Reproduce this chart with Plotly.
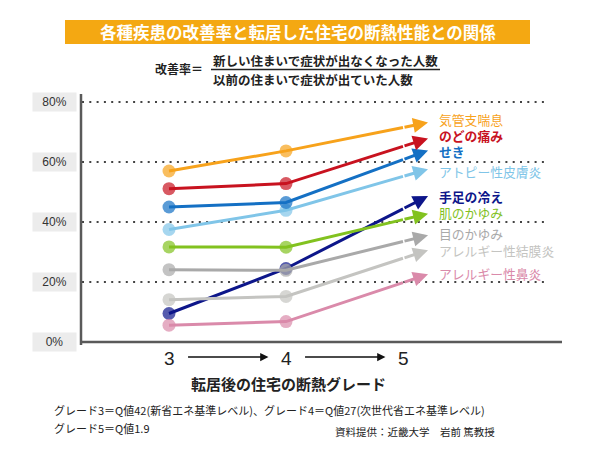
import plotly.graph_objects as go

# ---------------- data ----------------
GRADES = [3, 4, 5]
GRADE_LABELS = ["3", "4", "5"]
Y_TICKS = [0, 20, 40, 60, 80]
Y_TICK_LABELS = ["0%", "20%", "40%", "60%", "80%"]

SYMPTOMS = ["気管支喘息", "のどの痛み", "せき", "アトピー性皮膚炎", "手足の冷え",
            "肌のかゆみ", "目のかゆみ", "アレルギー性結膜炎", "アレルギー性鼻炎"]
RATE_G3 = [57.0, 51.1, 45.0, 37.5, 9.5, 31.7, 24.1, 14.1, 5.6]
RATE_G4 = [63.7, 52.8, 46.5, 43.9, 24.5, 31.6, 23.9, 15.2, 6.8]
RATE_G5 = [71.5, 65.2, 60.8, 55.2, 44.4, 40.8, 33.5, 27.9, 19.8]

TITLE = "各種疾患の改善率と転居した住宅の断熱性能との関係"
FORMULA_LEFT = "改善率＝"
FORMULA_NUM = "新しい住まいで症状が出なくなった人数"
FORMULA_DEN = "以前の住まいで症状が出ていた人数"
X_TITLE = "転居後の住宅の断熱グレード"
NOTE_1 = "グレード3＝Q値42(新省エネ基準レベル)、グレード4＝Q値27(次世代省エネ基準レベル)"
NOTE_2 = "グレード5＝Q値1.9"
CREDIT = "資料提供：近畿大学　岩前 篤教授"

# ---------------- style ----------------
COLORS = ["#f7a21b", "#c8121f", "#1470c4", "#80c5e8", "#0d168a",
          "#82c21f", "#a9a9a9", "#c4c4c1", "#da8aaa"]
LABEL_BOLD = [False, True, True, False, True, False, False, False, False]
LABEL_YSHIFT = [3, 2.5, -1.5, -2, 0, 1, 2, 0, 1]
DRAW_ORDER = [4, 8, 7, 6, 5, 3, 2, 1, 0]
FONT = "Noto Sans CJK JP"
LATIN = "Liberation Sans"
OVERSHOOT = 0.214

PAGE_W, PAGE_H = 600, 450
BODY_MARGIN = 8  # default page margin around the plot div
W_FIG, H_FIG = PAGE_W - BODY_MARGIN, PAGE_H - BODY_MARGIN
L, R, T, B = 81, 548, 95, 342  # plot area in page pixels
PW, PH = R - L, B - T
X_RANGE = [3 - (169 - L) / 117.0, 3 + (R - 169) / 117.0]
Y_RANGE = [0, PH / 3.0]


def px(x):
    return (x - L) / PW


def py(y):
    return (B - y) / PH


fig = go.Figure()
annotations = []
shapes = []

# gridlines
for t in Y_TICKS[1:]:
    shapes.append(dict(type="line", xref="paper", yref="y", x0=px(82), x1=1, y0=t, y1=t,
                       line=dict(color="#444", width=2, dash="2px,5.3px"), layer="below"))
# axes lines
shapes.append(dict(type="line", xref="paper", yref="paper", x0=0, x1=0, y0=py(345), y1=py(94),
                   line=dict(color="#5a5a5a", width=2.5)))
shapes.append(dict(type="line", xref="paper", yref="paper", x0=px(80), x1=px(562), y0=0, y1=0,
                   line=dict(color="#5a5a5a", width=2.5)))

# series
for i in DRAW_ORDER:
    c = COLORS[i]
    fig.add_trace(go.Scatter(
        x=GRADES, y=[RATE_G3[i], RATE_G4[i], RATE_G5[i]],
        mode="lines+markers", name=SYMPTOMS[i],
        line=dict(color=c, width=3),
        marker=dict(color=c, size=[13, 13, 0], line=dict(width=0)),
        cliponaxis=False, showlegend=False, hoverinfo="skip"))
    tip_x = GRADES[2] + OVERSHOOT
    tip_y = RATE_G4[i] + (RATE_G5[i] - RATE_G4[i]) * (1 + OVERSHOOT)
    annotations.append(dict(
        x=tip_x, y=tip_y, xref="x", yref="y",
        ax=GRADES[2], ay=RATE_G5[i], axref="x", ayref="y",
        text="", showarrow=True, arrowhead=2, arrowsize=1, arrowwidth=3,
        arrowcolor=c, standoff=0))
    annotations.append(dict(
        x=px(437), y=tip_y, xref="paper", yref="y", xanchor="left", yanchor="middle",
        yshift=LABEL_YSHIFT[i],
        text=("<b>%s</b>" % SYMPTOMS[i]) if LABEL_BOLD[i] else SYMPTOMS[i],
        showarrow=False, font=dict(family=FONT, size=12.8, color=c)))

# y tick labels with grey boxes
for t, lab in zip(Y_TICKS, Y_TICK_LABELS):
    annotations.append(dict(
        x=px(54.5), y=t, xref="paper", yref="y", xanchor="center", yanchor="middle",
        text=lab, showarrow=False, width=43, height=18, borderpad=0,
        bgcolor="#ececec", font=dict(family=LATIN, size=12, color="#333")))

# x labels and arrows between them
for g, lab in zip(GRADES, GRADE_LABELS):
    annotations.append(dict(
        x=g, y=py(358), xref="x", yref="paper", xanchor="center", yanchor="middle",
        text=lab, showarrow=False, font=dict(family=LATIN, size=19, color="#222")))
for g in GRADES[:-1]:
    annotations.append(dict(
        x=g + 0.85, y=py(357), xref="x", yref="paper",
        ax=g + 0.15, ay=0, axref="x", ayref="pixel",
        text="", showarrow=True, arrowhead=2, arrowsize=1.1, arrowwidth=1.5,
        arrowcolor="#111"))

annotations.append(dict(
    x=px(288), y=py(383), xref="paper", yref="paper", xanchor="center", yanchor="middle",
    text="<b>%s</b>" % X_TITLE, showarrow=False, font=dict(family=FONT, size=15, color="#222")))

# title band
shapes.append(dict(type="rect", xref="paper", yref="paper", x0=px(65), x1=px(530),
                   y0=py(44), y1=py(20), fillcolor="#f4a812", line=dict(width=0)))
annotations.append(dict(
    x=px(297.5), y=py(32), xref="paper", yref="paper", xanchor="center", yanchor="middle",
    text="<b>%s</b>" % TITLE, showarrow=False, font=dict(family=FONT, size=16.5, color="white")))

# formula
annotations.append(dict(
    x=px(153), y=py(68.5), xref="paper", yref="paper", xanchor="left", yanchor="middle",
    text="<b>%s</b>" % FORMULA_LEFT, showarrow=False, font=dict(family=FONT, size=12, color="#222")))
annotations.append(dict(
    x=px(211), y=py(60), xref="paper", yref="paper", xanchor="left", yanchor="middle",
    text="<b>%s</b>" % FORMULA_NUM, showarrow=False, font=dict(family=FONT, size=12.5, color="#222")))
annotations.append(dict(
    x=px(211), y=py(79), xref="paper", yref="paper", xanchor="left", yanchor="middle",
    text="<b>%s</b>" % FORMULA_DEN, showarrow=False, font=dict(family=FONT, size=12.5, color="#222")))
shapes.append(dict(type="line", xref="paper", yref="paper", x0=px(211), x1=px(440),
                   y0=py(69.5), y1=py(69.5), line=dict(color="#222", width=1.3)))

# notes
annotations.append(dict(
    x=px(52), y=py(410), xref="paper", yref="paper", xanchor="left", yanchor="middle",
    text=NOTE_1, showarrow=False, font=dict(family=FONT, size=11, color="#222")))
annotations.append(dict(
    x=px(52), y=py(428), xref="paper", yref="paper", xanchor="left", yanchor="middle",
    text=NOTE_2, showarrow=False, font=dict(family=FONT, size=11, color="#222")))
annotations.append(dict(
    x=px(333), y=py(431), xref="paper", yref="paper", xanchor="left", yanchor="middle",
    text=CREDIT, showarrow=False, font=dict(family=FONT, size=10.5, color="#222")))

fig.update_layout(
    width=W_FIG, height=H_FIG,
    margin=dict(l=L - BODY_MARGIN, r=PAGE_W - R, t=T - BODY_MARGIN, b=PAGE_H - B, pad=0),
    paper_bgcolor="white", plot_bgcolor="white",
    xaxis=dict(range=X_RANGE, visible=False, fixedrange=True),
    yaxis=dict(range=Y_RANGE, visible=False, fixedrange=True),
    annotations=annotations, shapes=shapes, showlegend=False,
    font=dict(family=FONT),
)

fig.write_html("out.html")
